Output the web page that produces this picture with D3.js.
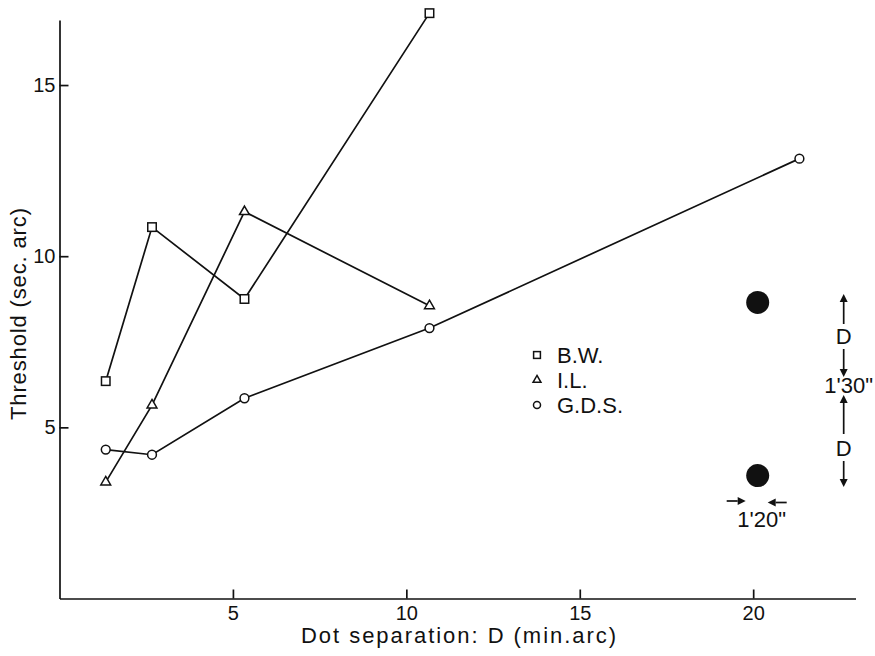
<!DOCTYPE html>
<html>
<head>
<meta charset="utf-8">
<script src="https://cdn.jsdelivr.net/npm/d3@7"></script>
<style>
  html, body { margin: 0; padding: 0; background: #fff; }
  svg { display: block; }
  text { font-family: "Liberation Sans", Arial, sans-serif; fill: #111; }
</style>
</head>
<body>
<svg id="chart" width="875" height="656"></svg>
<script>
// Dot separation D (min arc) at which each observer was tested
const separations = [1.333, 2.667, 5.333, 10.667, 21.333];

// Threshold (sec. arc) per observer
const seriesNames = ["B.W.", "I.L.", "G.D.S."];
const bwValues  = [6.35, 10.85, 8.75, 17.1];
const ilValues  = [3.4, 5.65, 11.3, 8.55];
const gdsValues = [4.35, 4.2, 5.85, 7.9, 12.85];

// Axis ticks
const xTickValues = [5, 10, 15, 20];
const yTickValues = [5, 10, 15];

const ink = "#111";
const svg = d3.select("#chart");

const x = d3.scaleLinear().domain([0, 22.95]).range([59.5, 855.5]);
const y = d3.scaleLinear().domain([0, 16.9]).range([598.5, 20]);

// ---- axes (ticks point inward) ----
const xAxis = svg.append("g")
  .attr("transform", `translate(0,${y(0)})`)
  .call(d3.axisBottom(x).tickValues(xTickValues).tickSizeInner(-9).tickSizeOuter(0).tickPadding(7));
const yAxis = svg.append("g")
  .attr("transform", `translate(${x(0)},0)`)
  .call(d3.axisLeft(y).tickValues(yTickValues).tickSizeInner(-9).tickSizeOuter(0).tickPadding(4));

[xAxis, yAxis].forEach(g => {
  g.select(".domain").attr("stroke", ink).attr("stroke-width", 1.7);
  g.selectAll(".tick line").attr("stroke", ink).attr("stroke-width", 1.7);
  g.selectAll(".tick text").attr("fill", ink).style("font-size", "20px")
    .style("font-family", "'Liberation Sans', Arial, sans-serif");
});

// axis titles
svg.append("text")
  .attr("x", 301).attr("y", 643)
  .attr("textLength", 315)
  .style("font-size", "22px")
  .text("Dot separation: D (min.arc)");

svg.append("text")
  .attr("transform", "translate(26,420) rotate(-90)")
  .attr("textLength", 212)
  .style("font-size", "22px")
  .text("Threshold (sec. arc)");

// ---- series ----
const series = [
  { name: seriesNames[0], values: bwValues,  shape: "square" },
  { name: seriesNames[1], values: ilValues,  shape: "triangle" },
  { name: seriesNames[2], values: gdsValues, shape: "circle" }
];

const line = d3.line().x(d => x(d[0])).y(d => y(d[1]));

function drawMarker(g, shape, cx, cy, scale) {
  if (shape === "square") {
    const s = 8.5 * scale;
    g.append("rect").attr("x", cx - s / 2).attr("y", cy - s / 2)
      .attr("width", s).attr("height", s)
      .attr("fill", "#fff").attr("stroke", ink).attr("stroke-width", 1.5);
  } else if (shape === "triangle") {
    g.append("path")
      .attr("d", d3.symbol().type(d3.symbolTriangle).size(42 * scale * scale)())
      .attr("transform", `translate(${cx},${cy})`)
      .attr("fill", "#fff").attr("stroke", ink).attr("stroke-width", 1.5);
  } else {
    g.append("circle").attr("cx", cx).attr("cy", cy).attr("r", 4.4 * scale)
      .attr("fill", "#fff").attr("stroke", ink).attr("stroke-width", 1.5);
  }
}

series.forEach(s => {
  const pts = s.values.map((v, i) => [separations[i], v]);
  svg.append("path").datum(pts)
    .attr("d", line)
    .attr("fill", "none").attr("stroke", ink).attr("stroke-width", 1.7);
});
series.forEach(s => {
  const g = svg.append("g");
  s.values.forEach((v, i) => drawMarker(g, s.shape, x(separations[i]), y(v), 1));
});

// ---- legend ----
const legend = svg.append("g").attr("transform", "translate(537,355)");
series.forEach((s, i) => {
  const g = legend.append("g").attr("transform", `translate(0,${i * 25})`);
  drawMarker(g, s.shape, 0, 0, 0.8);
  g.append("text").attr("x", 20).attr("y", 7.5)
    .style("font-size", "22px").text(s.name);
});

// ---- stimulus sketch: two dots separated by D, 1'20" wide ----
const inset = svg.append("g");
const dotX = x(20.13);
const dotTop = y(8.65), dotBottom = y(3.59);
[dotTop, dotBottom].forEach(cy =>
  inset.append("circle").attr("cx", dotX).attr("cy", cy).attr("r", 11.5).attr("fill", ink));

function arrow(x1, y1, x2, y2) {
  const a = Math.atan2(y2 - y1, x2 - x1);
  const len = 8, half = 4;
  const bx = x2 - len * Math.cos(a), by = y2 - len * Math.sin(a);
  inset.append("line").attr("x1", x1).attr("y1", y1).attr("x2", bx).attr("y2", by)
    .attr("stroke", ink).attr("stroke-width", 1.7);
  inset.append("path")
    .attr("d", `M${x2},${y2}L${bx - half * Math.sin(a)},${by + half * Math.cos(a)}L${bx + half * Math.sin(a)},${by - half * Math.cos(a)}Z`)
    .attr("fill", ink);
}

const ax = dotX + 86;
arrow(ax, 324, ax, 294);
inset.append("text").attr("x", ax).attr("y", 344).attr("text-anchor", "middle")
  .style("font-size", "22px").text("D");
arrow(ax, 349, ax, 377);
inset.append("text").attr("x", ax + 5).attr("y", 393).attr("text-anchor", "middle")
  .style("font-size", "22px").text("1'30\"");
arrow(ax, 434, ax, 395);
inset.append("text").attr("x", ax).attr("y", 456).attr("text-anchor", "middle")
  .style("font-size", "22px").text("D");
arrow(ax, 461, ax, 487);

arrow(dotX - 31, 501, dotX - 12, 501);
arrow(dotX + 29, 502.5, dotX + 10, 502.5);
inset.append("text").attr("x", dotX + 4).attr("y", 527).attr("text-anchor", "middle")
  .style("font-size", "22px").text("1'20\"");
</script>
</body>
</html>
